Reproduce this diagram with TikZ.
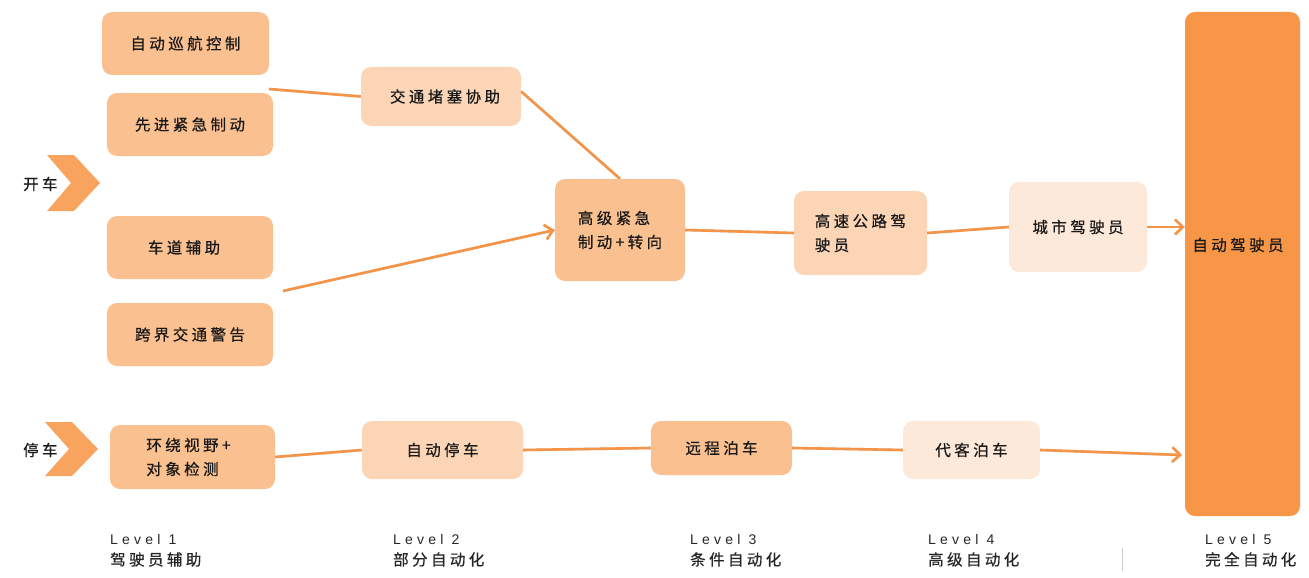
\documentclass[tikz,border=0pt]{standalone}
\usepackage{fontspec}
\setmainfont{Liberation Sans}
\newfontfamily\cjk[LetterSpace=22,FakeBold=0.6]{Noto Sans CJK SC}
\newfontfamily\lat[LetterSpace=30]{Liberation Sans}
\newcommand\lvcfont{\cjk\fontsize{15.5}{21}\selectfont}
\usetikzlibrary{arrows.meta}
\definecolor{oDark}{HTML}{F79646}
\definecolor{oMed}{HTML}{FAC090}
\definecolor{oLight}{HTML}{FBD5B5}
\definecolor{oPale}{HTML}{FDE9D9}
\definecolor{oChev}{HTML}{F8A45E}
\definecolor{oLine}{HTML}{F59447}
\begin{document}
\begin{tikzpicture}[x=1pt,y=-1pt,
  boxbase/.style={rounded corners=10pt, inner sep=0pt, align=left,
    font=\cjk\fontsize{15.5}{24}\selectfont, text=black!90},
  boxM/.style={boxbase, fill=oMed},
  boxL/.style={boxbase, fill=oLight},
  boxP/.style={boxbase, fill=oPale},
  boxD/.style={boxbase, fill=oDark},
  txt/.style={inner sep=0pt, font=\cjk\fontsize{15.5}{24}\selectfont, text=black!90},
  lvl/.style={inner sep=0pt, anchor=north west, align=left, font=\lat\fontsize{14}{21}\selectfont, text=black!85},
  conn/.style={draw=oLine, line width=2.6pt},
  shade/.style={draw=black!15, line width=2.6pt},
  arr/.style={conn, -{Straight Barb[length=8pt, width=15pt, line width=2.6pt]}},
  chev/.style={fill=oChev, draw=none}
]
\useasboundingbox (0,0) rectangle (1309,578);

% chevrons
\fill[chev] (47,155) -- (74,155) -- (100,183) -- (74,211) -- (47,211) -- (71,183) -- cycle;
\fill[chev] (45,422) -- (72,422) -- (98,449) -- (72,476) -- (45,476) -- (69,449) -- cycle;
\node[txt, anchor=west] (kc) at (23,184) {开车};
\node[txt, anchor=west] (tc) at (23,450) {停车};

% level 1 column
\node[boxM, minimum width=167, minimum height=63] (b1) at (185.5,43.5) {自动巡航控制};
\node[boxM, minimum width=166, minimum height=63] (b2) at (190,124.5) {先进紧急制动};
\node[boxM, minimum width=166, minimum height=63] (b3) at (190,247.5) {\hspace*{-12pt}车道辅助};
\node[boxM, minimum width=166, minimum height=63] (b4) at (190,334.5) {跨界交通警告};
\node[boxM, minimum width=165, minimum height=64] (hr) at (192.5,457) {环绕视野+\\对象检测\hspace*{20pt}};

% level 2
\node[boxL, minimum width=160, minimum height=59] (jt) at (441,96.5) {\hspace*{8pt}交通堵塞协助};
\node[boxM, minimum width=130, minimum height=102] (gj) at (620,230) {高级紧急\\制动+转向};
\node[boxL, minimum width=161, minimum height=58] (zt) at (442.5,450) {自动停车};

% level 3
\node[boxL, minimum width=133, minimum height=84] (gs) at (860.5,233) {高速公路驾\\驶员\hspace*{57pt}};
\node[boxM, minimum width=141, minimum height=54] (yc) at (721.5,448) {远程泊车};

% level 4
\node[boxP, minimum width=138, minimum height=90] (cs) at (1078,227) {城市驾驶员};
\node[boxP, minimum width=137, minimum height=58] (dk) at (971.5,450) {代客泊车};

% level 5
\node[boxD, minimum width=115, minimum height=504] (zd) at (1242.5,264) {};
\node[txt] (zdt) at (1238,245) {自动驾驶员};

% connector anchors
\coordinate (c1) at (269,89);
\coordinate (c2) at (283,291);
\coordinate (c3) at (1182,455);

% shadows
\begin{scope}[shift={(1,2)}]
\draw[shade] (c1) -- (jt.west);
\draw[shade] ([yshift=5]jt.east) -- (gj.north);
\draw[shade] (c2) -- (gj.west);
\draw[shade] (gj.east) -- (gs.west);
\draw[shade] (gs.east) -- (cs.west);
\draw[shade] (hr.east) -- (zt.west);
\draw[shade] (zt.east) -- (yc.west);
\draw[shade] (yc.east) -- (dk.west);
\draw[shade] (dk.east) -- ([xshift=-4]c3);
\end{scope}

% connectors
\draw[conn] (c1) -- (jt.west);
\draw[conn] ([yshift=5]jt.east) -- (gj.north);
\draw[arr] (c2) -- (gj.west);
\draw[conn] (gj.east) -- (gs.west);
\draw[conn] (gs.east) -- (cs.west);
\draw[arr] (cs.east) -- (cs.east -| zd.west);
\draw[conn] (hr.east) -- (zt.west);
\draw[conn] (zt.east) -- (yc.west);
\draw[conn] (yc.east) -- (dk.west);
\draw[arr] (dk.east) -- (c3);

% level labels
\node[lvl] (l1) at (110,534) {Level 1\\{\lvcfont 驾驶员辅助}};
\node[lvl] (l2) at (393,534) {Level 2\\{\lvcfont 部分自动化}};
\node[lvl] (l3) at (690,534) {Level 3\\{\lvcfont 条件自动化}};
\node[lvl] (l4) at (928,534) {Level 4\\{\lvcfont 高级自动化}};
\node[lvl] (l5) at (1205,534) {Level 5\\{\lvcfont 完全自动化}};
\coordinate (s1) at (1122,548);
\coordinate (s2) at (1122,571);
\draw[black!20, line width=0.8pt] (s1) -- (s2);
\end{tikzpicture}
\end{document}
